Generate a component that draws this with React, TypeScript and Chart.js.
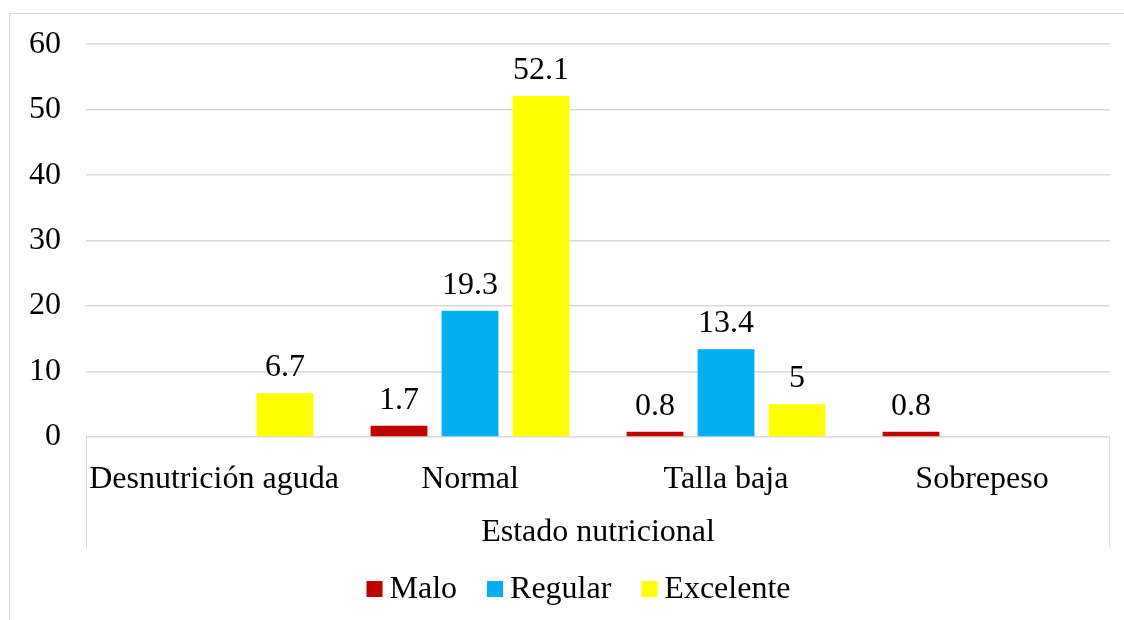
import React, { useEffect, useRef } from "react";
import { Chart, registerables } from "chart.js";

Chart.register(...registerables);

const categories = ["Desnutrición aguda", "Normal", "Talla baja", "Sobrepeso"];
const seriesNames = ["Malo", "Regular", "Excelente"];
const malo = [null, 1.7, 0.8, 0.8];
const regular = [null, 19.3, 13.4, null];
const excelente = [6.7, 52.1, 5, null];
const colors = ["#C00000", "#00B0F0", "#FFFF00"];
const axisTitle = "Estado nutricional";

const FONT = "'Liberation Serif', 'Times New Roman', serif";
const FS = 32;
const GRID = "#D9D9D9";

const decor = {
  id: "decor",
  beforeDraw(chart: any) {
    const ctx = chart.ctx;
    ctx.save();
    ctx.fillStyle = "#fff";
    ctx.fillRect(0, 0, chart.width, chart.height);
    ctx.strokeStyle = GRID;
    ctx.lineWidth = 1;
    ctx.strokeRect(9.5, 13.5, chart.width + 20, chart.height + 20);
    ctx.restore();
  },
  afterDraw(chart: any) {
    const ctx = chart.ctx;
    const a = chart.chartArea;
    ctx.save();
    // category bracket lines
    ctx.strokeStyle = GRID;
    ctx.lineWidth = 1;
    ctx.beginPath();
    ctx.moveTo(Math.round(a.left) + 0.5, a.bottom);
    ctx.lineTo(Math.round(a.left) + 0.5, a.bottom + 111);
    ctx.moveTo(Math.round(a.right) - 0.5, a.bottom);
    ctx.lineTo(Math.round(a.right) - 0.5, a.bottom + 111);
    ctx.stroke();
    // data labels
    ctx.fillStyle = "#000";
    ctx.font = `${FS}px ${FONT}`;
    ctx.textAlign = "center";
    ctx.textBaseline = "alphabetic";
    chart.data.datasets.forEach((ds: any, i: number) => {
      const meta = chart.getDatasetMeta(i);
      meta.data.forEach((el: any, j: number) => {
        const v = ds.data[j];
        if (v === null || v === undefined) return;
        ctx.fillText(String(v), el.x, el.y - 17);
      });
    });
    // legend
    const box = 16;
    const gapBoxText = 7;
    const gapItems = 30;
    const widths = seriesNames.map((n) => ctx.measureText(n).width);
    const total =
      widths.reduce((s, w) => s + box + gapBoxText + w, 0) + gapItems * (seriesNames.length - 1);
    let x = 578.5 - total / 2;
    const cy = 589;
    ctx.textAlign = "left";
    ctx.textBaseline = "middle";
    seriesNames.forEach((n, i) => {
      ctx.fillStyle = colors[i];
      ctx.fillRect(x, cy - box / 2, box, box);
      ctx.fillStyle = "#000";
      ctx.fillText(n, x + box + gapBoxText, cy + 1);
      x += box + gapBoxText + widths[i] + gapItems;
    });
    ctx.restore();
  },
};

export default function App() {
  const ref = useRef<HTMLCanvasElement>(null);
  useEffect(() => {
    if (!ref.current) return;
    const chart = new Chart(ref.current, {
      type: "bar",
      data: {
        labels: categories,
        datasets: [malo, regular, excelente].map((d, i) => ({
          label: seriesNames[i],
          data: d,
          backgroundColor: colors[i],
          categoryPercentage: 0.832,
          barPercentage: 0.8,
        })),
      },
      options: {
        animation: false,
        responsive: false,
        maintainAspectRatio: false,
        layout: { padding: { top: 44, right: 14, left: 0, bottom: 72 } },
        plugins: {
          legend: { display: false },
          tooltip: { enabled: false },
        },
        scales: {
          y: {
            min: 0,
            max: 60,
            ticks: {
              stepSize: 10,
              color: "#000",
              font: { family: FONT, size: FS },
              padding: 25,
            },
            grid: { color: GRID, drawTicks: false, lineWidth: 1.5 },
            border: { display: false },
            afterFit: (s: any) => {
              s.width = 86;
            },
          },
          x: {
            ticks: {
              color: "#000",
              font: { family: FONT, size: FS },
              padding: 23,
              maxRotation: 0,
              autoSkip: false,
            },
            grid: { display: false, drawTicks: false },
            border: { display: false },
            title: {
              display: true,
              text: axisTitle,
              color: "#000",
              font: { family: FONT, size: FS },
              padding: { top: 0, bottom: -4 },
            },
            afterFit: (s: any) => {
              s.height = 111;
            },
          },
        },
      },
      plugins: [decor],
    });
    return () => chart.destroy();
  }, []);
  return (
    <div style={{ position: "fixed", left: 0, top: 0, width: 1124, height: 620 }}>
      <canvas ref={ref} width={1124} height={620} style={{ width: 1124, height: 620 }} />
    </div>
  );
}
